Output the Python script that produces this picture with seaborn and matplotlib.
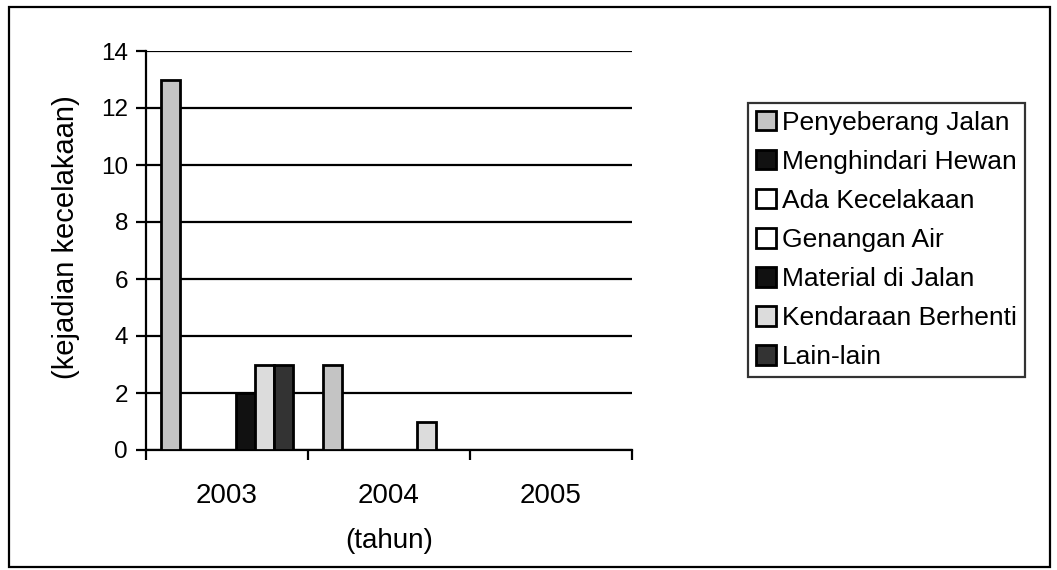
import pandas as pd
import matplotlib
matplotlib.use('Agg')
import matplotlib.pyplot as plt
from matplotlib.patches import Rectangle
import seaborn as sns

# data
tahun = ['2003', '2004', '2005']
sebab = ['Penyeberang Jalan', 'Menghindari Hewan', 'Ada Kecelakaan', 'Genangan Air',
         'Material di Jalan', 'Kendaraan Berhenti', 'Lain-lain']
penyeberang_jalan = [13, 3, 0]
menghindari_hewan = [0, 0, 0]
ada_kecelakaan = [0, 0, 0]
genangan_air = [0, 0, 0]
material_di_jalan = [2, 0, 0]
kendaraan_berhenti = [3, 1, 0]
lain_lain = [3, 0, 0]

warna = ['#c4c4c4', '#111111', '#ffffff', '#ffffff', '#111111', '#dcdcdc', '#333333']

nilai = [penyeberang_jalan, menghindari_hewan, ada_kecelakaan, genangan_air,
         material_di_jalan, kendaraan_berhenti, lain_lain]
rows = []
for s, vals in zip(sebab, nilai):
    for t, v in zip(tahun, vals):
        rows.append({'tahun': t, 'sebab': s, 'jumlah': v})
df = pd.DataFrame(rows)

sns.set_style('white')
plt.rcParams['font.family'] = ['Liberation Sans', 'DejaVu Sans']
plt.rcParams['text.color'] = 'black'
plt.rcParams['axes.labelcolor'] = 'black'
plt.rcParams['xtick.color'] = 'black'
plt.rcParams['ytick.color'] = 'black'

fig = plt.figure(figsize=(10.57, 5.70), dpi=100)
ax = fig.add_axes([146/1057, 120/570, 486/1057, 399/570])

sns.barplot(x='tahun', y='jumlah', hue='sebab', data=df, order=tahun, hue_order=sebab,
            palette=warna, edgecolor='black', linewidth=2.0, width=0.82,
            saturation=1, ax=ax, zorder=3)

ax.set_ylim(0, 14)
ax.set_xlim(-0.5, 2.5)
ax.set_yticks(range(0, 15, 2))
ax.yaxis.grid(True, color='black', linewidth=1.6, zorder=0)
ax.set_axisbelow(True)
for side in ['top', 'right']:
    ax.spines[side].set_visible(False)
for side in ['left', 'bottom']:
    ax.spines[side].set_color('black')
    ax.spines[side].set_linewidth(1.6)

ax.tick_params(axis='y', left=True, length=7, width=1.6, color='black',
               labelsize=17.5, pad=6, direction='out')
ax.tick_params(axis='x', which='major', length=0, labelsize=20, pad=24)
ax.set_xticks([-0.5, 0.5, 1.5, 2.5], minor=True)
ax.tick_params(axis='x', which='minor', bottom=True, length=7, width=1.6,
               color='black', direction='out')

ax.set_xlabel('(tahun)', fontsize=20)
ax.xaxis.set_label_coords(0.5, -0.195)
ax.set_ylabel('(kejadian kecelakaan)', fontsize=21)
ax.yaxis.set_label_coords(-0.136, 0.534)

ax.get_legend().remove()
handles, labels = ax.get_legend_handles_labels()
leg = fig.legend(handles, labels, loc='upper left',
                 bbox_to_anchor=(748/1057, 467/570), fontsize=19,
                 frameon=True, fancybox=False, edgecolor='black',
                 handlelength=0.75, handleheight=0.75, handletextpad=0.25,
                 labelspacing=0.57, borderpad=0.3, borderaxespad=0)
leg.get_frame().set_linewidth(1.6)

fig.add_artist(Rectangle((9/1057, 3/570), 1041/1057, 560/570, transform=fig.transFigure,
                         fill=False, edgecolor='black', linewidth=1.6))

fig.savefig('out.png', dpi=100)
